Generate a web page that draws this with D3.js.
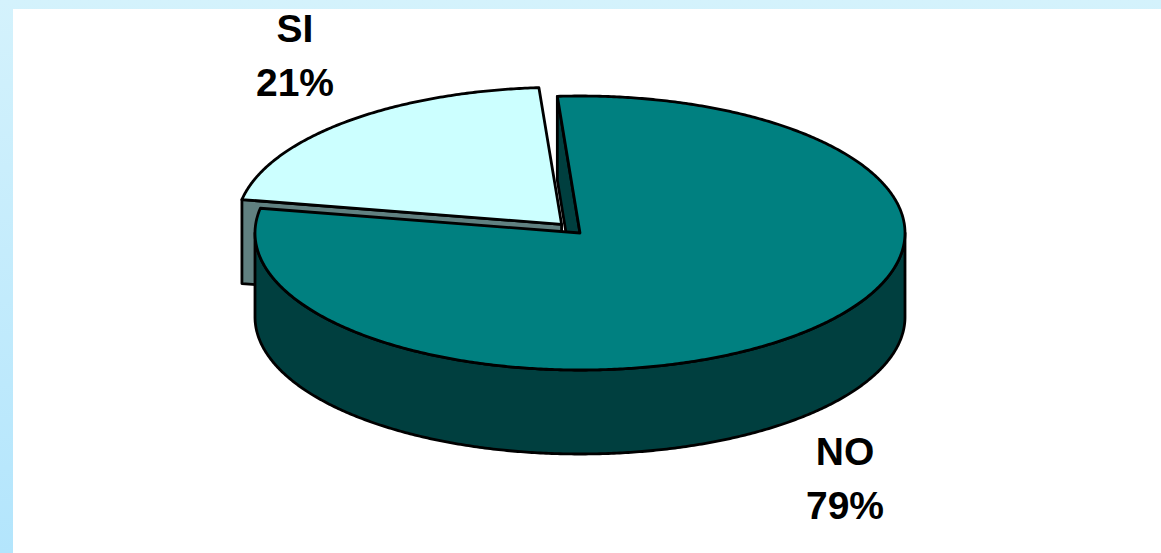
<!DOCTYPE html>
<html><head><meta charset="utf-8">
<script src="https://cdn.jsdelivr.net/npm/d3@7"></script>
<style>html,body{margin:0;padding:0;background:#fff;overflow:hidden}</style>
</head><body>
<svg id="chart" width="1161" height="553"></svg>
<script>
// ---- data ----
const categories = ["NO", "SI"];
const values = [79, 21];
const percentLabels = ["79%", "21%"];
const exploded = [false, true];

// ---- layout / style ----
const W = 1161, H = 553;
const cx = 580, cy = 233, rx = 325, ry = 137, depth = 84, explodeFrac = 0.085;
const topColors = { NO: "#008080", SI: "#ccffff" };
const sideColors = { NO: "#003f3f", SI: "#608080" };
const labelPos = { NO: [845, 465], SI: [295, 42] };
const lineGap = 54;

const svg = d3.select("#chart");
const defs = svg.append("defs");
const grad = defs.append("linearGradient").attr("id", "bg")
  .attr("x1", 0).attr("y1", 0).attr("x2", 0).attr("y2", 1);
grad.append("stop").attr("offset", "0%").attr("stop-color", "#d4f2fc");
grad.append("stop").attr("offset", "100%").attr("stop-color", "#b3e5fc");
svg.append("rect").attr("width", W).attr("height", H).attr("fill", "url(#bg)");
svg.append("rect").attr("x", 13).attr("y", 9).attr("width", W - 13).attr("height", H - 9).attr("fill", "#fff");

const deg = Math.PI / 180;
const pie = d3.pie().sort(null).value(d => d)
  .startAngle(-4 * deg).endAngle(356 * deg);
const arcs = pie(values).map((a, i) => {
  const mid = (a.startAngle + a.endAngle) / 2;
  const off = exploded[i]
    ? { x: explodeFrac * rx * Math.sin(mid), y: -explodeFrac * ry * Math.cos(mid) }
    : { x: 0, y: 0 };
  return { ...a, name: categories[i], pct: percentLabels[i], mid, off };
});

function P(a, h, off, r = 1) {
  return [cx + off.x + r * rx * Math.sin(a), cy + off.y - r * ry * Math.cos(a) + h];
}
function arcPts(a0, a1, h, off) {
  const n = Math.max(2, Math.ceil(Math.abs(a1 - a0) / (0.5 * deg)));
  return d3.range(n + 1).map(k => P(a0 + (a1 - a0) * k / n, h, off));
}
const line = d3.line().curve(d3.curveLinearClosed);

const g = svg.append("g")
  .attr("stroke", "#000").attr("stroke-width", 2.8).attr("stroke-linejoin", "round");

// back-most slices first
const order = arcs.slice().sort((a, b) => Math.cos(b.mid) - Math.cos(a.mid));

order.forEach(s => {
  const { startAngle: a0, endAngle: a1, off } = s;
  const sg = g.append("g");
  // radial face at start angle
  if (Math.sin(a0) < 0) {
    const c = P(0, 0, off, 0), e = P(a0, 0, off);
    sg.append("path").attr("fill", sideColors[s.name])
      .attr("d", line([c, e, [e[0], e[1] + depth], [c[0], c[1] + depth]]));
  }
  // radial face at end angle
  if (Math.sin(a1) > 0) {
    const c = P(0, 0, off, 0), e = P(a1, 0, off);
    sg.append("path").attr("fill", sideColors[s.name])
      .attr("d", line([c, e, [e[0], e[1] + depth], [c[0], c[1] + depth]]));
  }
  // outer side (front half: 90°..270°)
  [-1, 0, 1].forEach(k => {
    const lo = Math.max(a0, Math.PI / 2 + k * 2 * Math.PI);
    const hi = Math.min(a1, 1.5 * Math.PI + k * 2 * Math.PI);
    if (hi > lo) {
      const topArc = arcPts(lo, hi, 0, off);
      const botArc = arcPts(hi, lo, depth, off);
      sg.append("path").attr("fill", sideColors[s.name])
        .attr("d", line(topArc.concat(botArc)));
    }
  });
  // top face
  const c = P(0, 0, off, 0);
  sg.append("path").attr("fill", topColors[s.name])
    .attr("d", line([c].concat(arcPts(a0, a1, 0, off))));
});

// labels
const lab = svg.append("g")
  .attr("font-family", "'Liberation Sans', Arial, sans-serif")
  .attr("font-weight", "bold").attr("font-size", 39)
  .attr("text-anchor", "middle").attr("fill", "#000");
arcs.forEach(s => {
  const [x, y] = labelPos[s.name];
  lab.append("text").attr("x", x).attr("y", y).text(s.name);
  lab.append("text").attr("x", x).attr("y", y + lineGap).text(s.pct);
});
</script>
</body></html>
